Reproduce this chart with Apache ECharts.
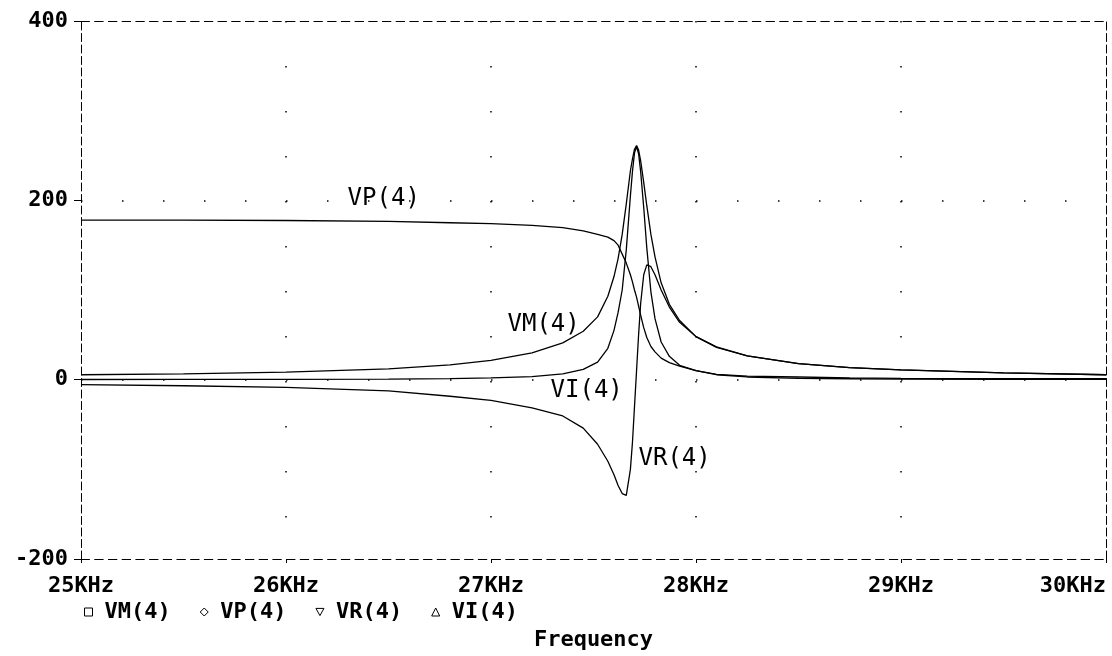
<!DOCTYPE html>
<html>
<head>
<meta charset="utf-8">
<title>VM(4) VP(4) VR(4) VI(4) vs Frequency</title>
<script src="https://cdn.jsdelivr.net/npm/echarts@6/dist/echarts.min.js"></script>
<style>
  html, body { margin: 0; padding: 0; background: #fff; }
  #chart { width: 1112px; height: 656px; }
</style>
</head>
<body>
<div id="chart"></div>
<script>
// frequency, KHz
const freq = [25, 25.5, 26, 26.5, 26.8, 27, 27.2, 27.35, 27.45, 27.52,
  27.57, 27.6, 27.62, 27.64, 27.66, 27.68, 27.69, 27.7, 27.71, 27.72,
  27.73, 27.745, 27.76, 27.78, 27.8, 27.83, 27.87, 27.92, 28, 28.1,
  28.25, 28.5, 28.75, 29, 29.5, 30]

// magnitude
const vm = [5.5, 6.5, 8.5, 12, 16.5, 21.5, 30, 41, 54, 70,
  93, 115, 135, 162, 196, 233, 246, 257, 261, 256,
  244, 220, 194, 162, 137, 108, 84, 66, 48, 36.5,
  26.5, 18, 13.5, 11, 7.5, 5.5]

// phase, degrees
const vp = [178, 178, 177.5, 176.5, 175, 174, 172, 169.5, 166, 162,
  159, 155, 150, 140, 130, 117, 109, 100, 92, 82,
  72, 58, 47, 37, 31, 24, 19, 15, 10, 6,
  4, 3, 2, 1.5, 1, 1]

// real part
const vr = [-5.5, -6.8, -8.7, -12.5, -18.5, -23, -31.5, -40.5, -54, -72,
  -91, -106, -118, -127, -129, -100, -70, -30, 10, 50,
  85, 117, 128, 126, 117, 100, 81, 64, 48, 36,
  26.5, 18, 13.5, 11, 7.5, 5.5]

// imaginary part
const vi = [0.2, 0.3, 0.4, 0.7, 1.2, 2, 3.5, 6.5, 11.5, 19.5,
  35, 55, 75, 100, 145, 205, 232, 253, 260, 252,
  232, 192, 147, 98, 68, 42, 26, 16, 10, 5.5,
  3, 1.5, 1, 0.6, 0.4, 0.3]

const seriesNames = ['VM(4)', 'VP(4)', 'VR(4)', 'VI(4)']
const legendIcons = ['rect', 'diamond', 'path://M0,0L10,0L5,9Z', 'triangle']

const MONO = '"DejaVu Sans Mono", "Liberation Mono", monospace'
const boldText = { color: '#000', fontFamily: MONO, fontWeight: 'bold', fontSize: 22 }
const X_DASH = [8.5, 5.2]
const Y_DASH = [8, 3.5]

function trace(name, values, labelCoord) {
  return {
    name,
    type: 'line',
    xAxisIndex: 0,
    yAxisIndex: 0,
    data: freq.map((f, i) => [f, values[i]]),
    symbol: 'none',
    showSymbol: false,
    lineStyle: { color: '#000', width: 1.3 },
    itemStyle: { color: '#000' },
    emphasis: { disabled: true },
    markPoint: {
      silent: true,
      symbol: 'circle',
      symbolSize: 1,
      itemStyle: { color: 'rgba(0,0,0,0)' },
      label: {
        show: true,
        position: 'right',
        distance: 0,
        formatter: name,
        color: '#000',
        fontFamily: MONO,
        fontSize: 24,
      },
      data: [{ coord: labelCoord }],
    },
  }
}

const chart = echarts.init(document.getElementById('chart'))

chart.setOption({
  animation: false,
  backgroundColor: '#fff',
  grid: { left: 81, top: 21, right: 6, bottom: 95 },
  legend: {
    left: 84,
    top: 601,
    padding: 0,
    itemWidth: 8,
    itemHeight: 8,
    itemGap: 29,
    selectedMode: false,
    itemStyle: { color: '#fff', borderColor: '#000', borderWidth: 1 },
    textStyle: { ...boldText, padding: [0, 0, 0, 7] },
    data: seriesNames.map((n, i) => ({ name: n, icon: legendIcons[i] })),
  },
  xAxis: [
    {
      type: 'value',
      min: 25,
      max: 30,
      interval: 1,
      name: 'Frequency',
      nameLocation: 'middle',
      nameGap: 70,
      nameTextStyle: boldText,
      axisLine: { onZero: false, lineStyle: { color: '#000', width: 1, type: X_DASH } },
      axisTick: { length: 4, lineStyle: { color: '#000' } },
      axisLabel: { ...boldText, margin: 16, formatter: (v) => v + 'KHz', alignMaxLabel: 'right' },
      splitLine: {
        show: true,
        showMinLine: false,
        showMaxLine: false,
        lineStyle: { color: '#000', width: 1.5, type: [1.5, 43.5] },
      },
    },
    {
      type: 'value',
      position: 'top',
      min: 25,
      max: 30,
      axisLine: { onZero: false, lineStyle: { color: '#000', width: 1, type: X_DASH } },
      axisTick: { show: false },
      axisLabel: { show: false },
      splitLine: { show: false },
    },
  ],
  yAxis: [
    {
      type: 'value',
      min: -200,
      max: 400,
      interval: 200,
      axisLine: { show: true, onZero: false, lineStyle: { color: '#000', width: 1, type: Y_DASH } },
      axisTick: { show: true, length: 7, lineStyle: { color: '#000' } },
      axisLabel: { ...boldText, margin: 13 },
      splitLine: {
        show: true,
        showMinLine: false,
        showMaxLine: false,
        lineStyle: { color: '#000', width: 1.5, type: [1.5, 39.5] },
      },
    },
    {
      type: 'value',
      position: 'right',
      min: -200,
      max: 400,
      axisLine: { show: true, onZero: false, lineStyle: { color: '#000', width: 1, type: Y_DASH } },
      axisTick: { show: false },
      axisLabel: { show: false },
      splitLine: { show: false },
    },
  ],
  series: [
    trace('VM(4)', vm, [27.078, 61]),
    trace('VP(4)', vp, [26.298, 202]),
    trace('VR(4)', vr, [27.717, -88]),
    trace('VI(4)', vi, [27.288, -12]),
  ],
})

window.addEventListener('resize', () => chart.resize())
</script>
</body>
</html>
